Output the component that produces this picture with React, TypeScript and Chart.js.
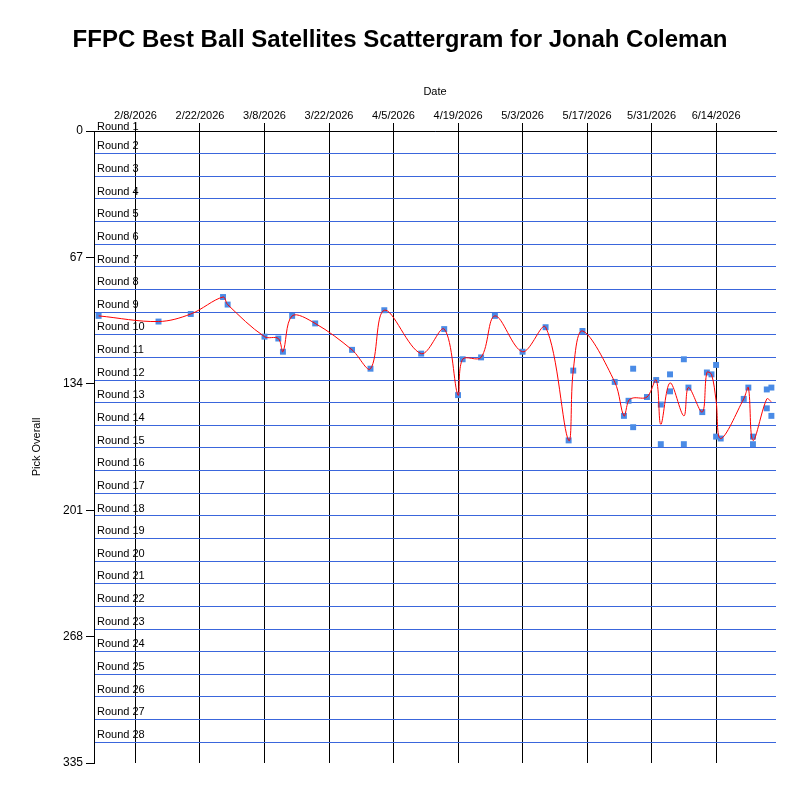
import { useEffect, useRef } from 'react';
import Chart from 'chart.js/auto';

const chartTitle = 'FFPC Best Ball Satellites Scattergram for Jonah Coleman';
// day 0 is 2/8/2026
const baseDate = new Date(2026, 1, 8);
const dateTicks = [0, 14, 28, 42, 56, 70, 84, 98, 112, 126];
const pickTicks = [0, 67, 134, 201, 268, 335];
const roundLines = [0, 12, 24, 36, 48, 60, 72, 84, 96, 108, 120, 132, 144, 156, 168, 180, 192, 204, 216, 228, 240, 252, 264, 276, 288, 300, 312, 324];
const roundLabels = [
  'Round 1', 'Round 2', 'Round 3', 'Round 4', 'Round 5', 'Round 6', 'Round 7',
  'Round 8', 'Round 9', 'Round 10', 'Round 11', 'Round 12', 'Round 13', 'Round 14',
  'Round 15', 'Round 16', 'Round 17', 'Round 18', 'Round 19', 'Round 20', 'Round 21',
  'Round 22', 'Round 23', 'Round 24', 'Round 25', 'Round 26', 'Round 27', 'Round 28',
];

// every pick (days after 2/8/2026, overall pick)
const pickDays = [
  -8, 5, 12, 19, 20, 28, 31, 32, 34, 39, 47, 51, 54, 62, 67, 70, 71, 75, 78, 84,
  89, 94, 95, 97, 104, 106, 107, 108, 108, 111, 113, 114, 114, 116, 116, 119, 119,
  120, 123, 124, 125, 126, 126, 127, 132, 133, 134, 134, 137, 137, 138, 138,
];
const pickOverall = [
  98, 101, 97, 88, 92, 109, 110, 117, 98, 102, 116, 126, 95, 118, 105, 140, 121, 120, 98, 117,
  104, 164, 127, 106, 133, 151, 143, 126, 157, 141, 132, 145, 166, 129, 138, 121, 166,
  136, 149, 128, 129, 124, 162, 163, 142, 136, 162, 166, 137, 147, 136, 151,
];

// trend line (one value per draft day)
const trendDays = [
  -8, 5, 12, 19, 20, 28, 31, 32, 34, 39, 47, 51, 54, 62, 67, 70, 71, 75, 78, 84,
  89, 94, 95, 97, 104, 106, 107, 108, 111, 113, 114, 116, 119, 120, 123, 124, 125,
  126, 127, 132, 133, 134, 137, 138,
];
const trendPicks = [
  98, 101, 97, 88, 92, 109, 110, 117, 98, 102, 116, 126, 95, 118, 105, 140, 121, 120, 98, 117,
  104, 164, 127, 106, 133, 151, 143, 141.5, 141, 132, 155.5, 133.5, 151, 136, 149, 128, 129,
  143, 163, 142, 136, 164, 142, 143.5,
];

const FONT = '"Liberation Sans", Arial, sans-serif';

function fmtDay(v: number) {
  const d = new Date(baseDate.getFullYear(), baseDate.getMonth(), baseDate.getDate() + v);
  return `${d.getMonth() + 1}/${d.getDate()}/${d.getFullYear()}`;
}

const overlay = {
  id: 'overlay',
  beforeDatasetsDraw(chart: any) {
    const { ctx, scales } = chart;
    const y = scales.y;
    ctx.save();
    ctx.fillStyle = '#000';
    ctx.font = `11px ${FONT}`;
    ctx.textAlign = 'left';
    ctx.textBaseline = 'middle';
    roundLabels.forEach((lab, i) => {
      const p = i === 0 ? -2.2 : 12 * i - 3.9;
      ctx.fillText(lab, chart.chartArea.left + 3, y.getPixelForValue(p));
    });
    ctx.restore();
  },
  afterDraw(chart: any) {
    const { ctx } = chart;
    ctx.save();
    ctx.fillStyle = '#000';
    ctx.font = `bold 24px ${FONT}`;
    ctx.textAlign = 'center';
    ctx.textBaseline = 'middle';
    ctx.fillText(chartTitle, 400, 40);
    ctx.restore();
  },
};

export default function App() {
  const ref = useRef<HTMLCanvasElement | null>(null);

  useEffect(() => {
    if (!ref.current) return;
    Chart.defaults.font.family = FONT;
    Chart.defaults.color = '#000';
    const chart = new Chart(ref.current, {
      type: 'scatter',
      data: {
        datasets: [
          {
            type: 'line',
            data: trendDays.map((d, i) => ({ x: d, y: trendPicks[i] })),
            borderColor: '#ff0000',
            borderWidth: 1,
            pointRadius: 0,
            tension: 0.35,
            fill: false,
          },
          {
            type: 'scatter',
            data: pickDays.map((d, i) => ({ x: d, y: pickOverall[i] })),
            pointStyle: 'rect',
            pointRadius: 4.2,
            backgroundColor: '#4a8be6',
            borderWidth: 0,
          },
        ],
      },
      options: {
        animation: false,
        responsive: false,
        devicePixelRatio: 1,
        layout: { padding: { left: 26, top: 81, right: 24, bottom: 37 } },
        plugins: { legend: { display: false }, tooltip: { enabled: false }, title: { display: false } },
        scales: {
          x: {
            type: 'linear',
            position: 'top',
            min: -9,
            max: 139,
            afterBuildTicks: (s: any) => { s.ticks = dateTicks.map((v) => ({ value: v })); },
            afterFit: (s: any) => { s.height = 50; s.paddingLeft = 0; s.paddingRight = 0; },
            ticks: { callback: (v: any) => fmtDay(Number(v)), font: { size: 11 }, padding: 0, maxRotation: 0, autoSkip: false },
            grid: { color: '#000', lineWidth: 1, tickLength: 8, z: -2 },
            border: { color: '#000' },
            title: { display: true, text: 'Date', font: { size: 11 } },
          },
          y: {
            type: 'linear',
            position: 'left',
            reverse: true,
            min: 0,
            max: 335,
            afterBuildTicks: (s: any) => { s.ticks = pickTicks.map((v) => ({ value: v })); },
            afterFit: (s: any) => { s.width = 68; s.paddingTop = 0; s.paddingBottom = 0; },
            ticks: { font: { size: 12 }, padding: 3 },
            grid: { drawOnChartArea: false, color: '#000', tickLength: 8 },
            border: { color: '#000' },
            title: { display: true, text: 'Pick Overall', font: { size: 11 } },
          },
          rounds: {
            type: 'linear',
            position: 'left',
            reverse: true,
            min: 0,
            max: 335,
            afterBuildTicks: (s: any) => { s.ticks = roundLines.map((v) => ({ value: v })); },
            afterFit: (s: any) => { s.width = 0; s.paddingTop = 0; s.paddingBottom = 0; },
            ticks: { display: false },
            grid: { color: '#3a66dc', lineWidth: 1, drawTicks: false, z: -1 },
            border: { display: false },
          },
        },
      },
      plugins: [overlay],
    } as any);
    return () => chart.destroy();
  }, []);

  return (
    <div style={{ position: 'absolute', left: 0, top: 0, width: 800, height: 800, background: '#fff' }}>
      <canvas ref={ref} width={800} height={800} style={{ width: 800, height: 800 }} />
    </div>
  );
}
